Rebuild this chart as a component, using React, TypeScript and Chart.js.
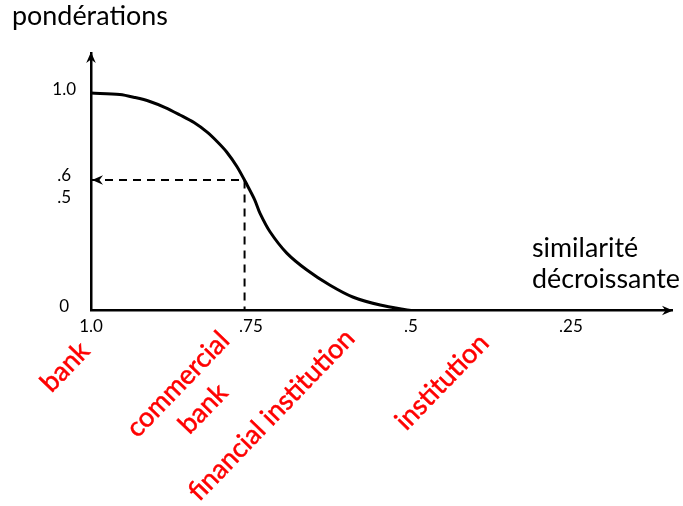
import React, { useEffect, useRef } from "react";
import { Chart, registerables } from "chart.js";

Chart.register(...registerables);

// ---- data ----
const similarity = [1.0, 0.955, 0.931, 0.908, 0.884, 0.861, 0.839, 0.819, 0.803, 0.788, 0.772, 0.756, 0.744, 0.736, 0.72, 0.694, 0.6625, 0.627, 0.591, 0.548, 0.5];
const weights = [1.0, 0.993, 0.979, 0.961, 0.933, 0.899, 0.864, 0.821, 0.777, 0.729, 0.662, 0.577, 0.508, 0.448, 0.361, 0.264, 0.186, 0.117, 0.062, 0.025, 0.0];

const xTickValues = [1.0, 0.75, 0.5, 0.25];
const xTickLabels = ["1.0", ".75", ".5", ".25"];
const yTickValues = [0, 0.5, 0.6, 1.0];
const yTickLabels = ["0", ".5", ".6", "1.0"];

const markedSimilarity = [1.0, 0.76, 0.76];
const markedWeight = [0.6, 0.6, 0.0];

const termLines = [["bank"], ["commercial", "bank"], ["financial institution"], ["institution"]];
const yTitle = "pondérations";
const xTitleLines = ["similarité", "décroissante"];

// ---- layout / style (not data) ----
const X_MIN = 0.092;
const X_MAX = 1.0;
const Y_MIN = 0;
const Y_MAX = 1.184;
const W = 683;
const H = 506;
const FONT = "Lato, 'Open Sans', sans-serif";
const RED = "rgb(255,0,0)";
// centers of the rotated term labels, relative to (chartArea.left, chartArea.bottom)
const termOffsets = [
  [-26, 56.5],
  [99.5, 86],
  [180.5, 104.5],
  [351, 71.5],
];

function fitSize(ctx: CanvasRenderingContext2D, text: string, target: number) {
  ctx.font = `100px ${FONT}`;
  const w = ctx.measureText(text).width;
  return (100 * target) / w;
}

function arrowHead(ctx: CanvasRenderingContext2D, tx: number, ty: number, angle: number) {
  ctx.save();
  ctx.translate(tx, ty);
  ctx.rotate(angle);
  ctx.beginPath();
  ctx.moveTo(0, 0);
  ctx.lineTo(-11, -4.8);
  ctx.lineTo(-7.5, 0);
  ctx.lineTo(-11, 4.8);
  ctx.closePath();
  ctx.fillStyle = "#000";
  ctx.fill();
  ctx.restore();
}

const decorations = {
  id: "decorations",
  afterDraw(chart: any) {
    const { ctx, chartArea } = chart;
    const xs = chart.scales.x;
    const ys = chart.scales.y;
    ctx.save();
    // arrow heads
    arrowHead(ctx, chartArea.left, chartArea.top - 1, -Math.PI / 2);
    arrowHead(ctx, chartArea.right + 1, ys.getPixelForValue(0), 0);
    arrowHead(ctx, xs.getPixelForValue(markedSimilarity[0]) + 1, ys.getPixelForValue(markedWeight[0]), Math.PI);

    // y title
    ctx.fillStyle = "#000";
    ctx.textAlign = "left";
    ctx.textBaseline = "alphabetic";
    const ts = fitSize(ctx, yTitle, 156);
    ctx.font = `${ts}px ${FONT}`;
    ctx.fillText(yTitle, 12, 25);

    // x title
    const xsz = fitSize(ctx, xTitleLines[1], 148);
    ctx.font = `${xsz}px ${FONT}`;
    ctx.fillText(xTitleLines[0], 532, 257);
    ctx.fillText(xTitleLines[1], 532, 288);

    // rotated red term labels
    const rs = fitSize(ctx, "financial institution", 226);
    ctx.font = `${rs}px ${FONT}`;
    ctx.fillStyle = RED;
    ctx.strokeStyle = RED;
    ctx.lineWidth = 0.5;
    ctx.textAlign = "center";
    ctx.textBaseline = "middle";
    const lineH = 35;
    termLines.forEach((lines, i) => {
      const cx = chartArea.left + termOffsets[i][0];
      const cy = chartArea.bottom + termOffsets[i][1];
      ctx.save();
      ctx.translate(cx, cy);
      ctx.rotate((-46 * Math.PI) / 180);
      const n = lines.length;
      lines.forEach((t, j) => {
        const yy = (j - (n - 1) / 2) * lineH;
        ctx.fillText(t, 0, yy);
        ctx.strokeText(t, 0, yy);
      });
      ctx.restore();
    });
    ctx.restore();
  },
};

export default function App() {
  const ref = useRef<HTMLCanvasElement>(null);
  useEffect(() => {
    if (!ref.current) return;
    const chart = new Chart(ref.current, {
      type: "line",
      data: {
        datasets: [
          {
            data: similarity.map((s, i) => ({ x: s, y: weights[i] })),
            borderColor: "#000",
            borderWidth: 3,
            pointRadius: 0,
            tension: 0.3,
            fill: false,
          },
          {
            data: markedSimilarity.map((s, i) => ({ x: s, y: markedWeight[i] })),
            borderColor: "#000",
            borderWidth: 2,
            borderDash: [8, 6],
            pointRadius: 0,
            tension: 0,
            fill: false,
          },
        ],
      },
      options: {
        responsive: false,
        animation: false,
        devicePixelRatio: 1,
        events: [],
        layout: { padding: { top: 53, right: 11, left: 0, bottom: 0 } },
        plugins: { legend: { display: false }, tooltip: { enabled: false }, title: { display: false } },
        scales: {
          x: {
            type: "linear",
            reverse: true,
            min: X_MIN,
            max: X_MAX,
            grid: { display: false, drawTicks: false },
            border: { display: true, color: "#000", width: 2.5 },
            afterBuildTicks: (scale: any) => {
              scale.ticks = xTickValues.map((v) => ({ value: v }));
            },
            afterFit: (scale: any) => {
              scale.height = H - 310.5;
            },
            ticks: {
              autoSkip: false,
              maxRotation: 0,
              padding: 6,
              color: "#000",
              font: { family: FONT, size: 17 },
              callback: (_v: any, i: number) => xTickLabels[i],
            },
          },
          y: {
            type: "linear",
            min: Y_MIN,
            max: Y_MAX,
            grid: { display: false, drawTicks: false },
            border: { display: true, color: "#000", width: 2.5 },
            afterBuildTicks: (scale: any) => {
              scale.ticks = yTickValues.map((v) => ({ value: v }));
            },
            afterFit: (scale: any) => {
              scale.width = 91;
            },
            ticks: {
              padding: 15,
              crossAlign: "center",
              labelOffset: -4,
              color: "#000",
              font: { family: FONT, size: 17 },
              callback: (_v: any, i: number) => yTickLabels[i],
            },
          },
        },
      },
      plugins: [decorations],
    } as any);
    return () => chart.destroy();
  }, []);
  return (
    <div style={{ position: "fixed", left: 0, top: 0, width: W, height: H }}>
      <canvas ref={ref} width={W} height={H} style={{ display: "block", width: W, height: H }} />
    </div>
  );
}
